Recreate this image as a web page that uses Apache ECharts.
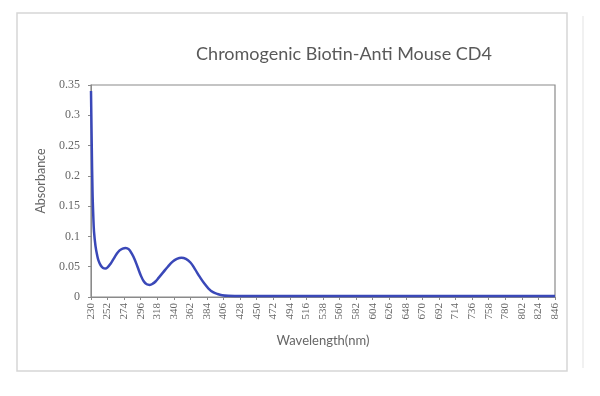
<!DOCTYPE html>
<html>
<head>
<meta charset="utf-8">
<script src="https://cdn.jsdelivr.net/npm/echarts@6/dist/echarts.min.js"></script>
<style>html,body{margin:0;padding:0;background:#fff;}#c{width:600px;height:396px;}</style>
</head>
<body>
<div id="c"></div>
<script>
const titleText = 'Chromogenic Biotin-Anti Mouse CD4';
const xAxisName = 'Wavelength(nm)';
const yAxisName = 'Absorbance';
const xTickLabels = [230,252,274,296,318,340,362,384,406,428,450,472,494,516,538,560,582,604,626,648,670,692,714,736,758,780,802,824,846];
const yTickLabels = [0,0.05,0.1,0.15,0.2,0.25,0.3,0.35];
const wavelengths = [230,231,232,233,234,236,238,240,243,246,249,252,256,260,264,268,272,276,280,284,288,292,296,300,304,308,312,316,320,326,332,338,344,350,356,362,368,374,380,386,392,398,404,412,430,500,600,700,800,846];
const absorbance = [0.340,0.250,0.175,0.135,0.108,0.084,0.070,0.060,0.052,0.048,0.047,0.049,0.055,0.063,0.071,0.077,0.080,0.081,0.079,0.072,0.062,0.049,0.036,0.026,0.021,0.020,0.022,0.026,0.032,0.041,0.050,0.058,0.063,0.065,0.063,0.057,0.046,0.034,0.023,0.014,0.008,0.005,0.003,0.002,0.0015,0.0015,0.0015,0.0015,0.0015,0.0015];

const chart = echarts.init(document.getElementById('c'), null, {renderer:'canvas'});
const seriesData = wavelengths.map((w,i)=>[w, absorbance[i]]);
const fontFam = 'Lato, "Open Sans", sans-serif';
chart.setOption({
  animation: false,
  backgroundColor: '#ffffff',
  title: {
    text: titleText, left: 339, top: 40, textAlign: 'center',
    textStyle: {fontSize: 18, fontWeight: 'normal', color: '#595959', fontFamily: fontFam}
  },
  graphic: [
    {type:'rect', shape:{x:17,y:13,width:550,height:358}, style:{fill:'none', stroke:'#d6d6d6', lineWidth:1.5}, silent:true, z:-1},
    {type:'line', shape:{x1:583,y1:16,x2:583,y2:368}, style:{stroke:'#ececec', lineWidth:1.5}, silent:true, z:-1}
  ],
  grid: {left: 91, top: 85, right: 45, bottom: 99, show: true, borderColor: '#8a8a8a', borderWidth: 1.2, backgroundColor:'transparent'},
  xAxis: {
    type: 'value', min: 230, max: 846,
    name: xAxisName, nameLocation: 'middle', nameGap: 37,
    nameTextStyle: {fontSize: 13, color: '#666', fontFamily: fontFam},
    axisLine: {show: true, lineStyle: {color: '#8a8a8a'}},
    axisTick: {show: true, length: 3, lineStyle:{color:'#8a8a8a'}, customValues: xTickLabels},
    splitLine: {show: false},
    axisLabel: {customValues: xTickLabels, rotate: 90, fontSize: 11, color: '#666', margin: 6, fontFamily: '"Liberation Serif", serif'}
  },
  yAxis: {
    type: 'value', min: 0, max: 0.35, interval: 0.05,
    name: yAxisName, nameLocation: 'middle', nameGap: 44, nameRotate: 90,
    nameTextStyle: {fontSize: 12.5, color: '#666', fontFamily: fontFam, padding: [0, 0, 0, 20]},
    axisLine: {show: true, lineStyle: {color: '#8a8a8a'}},
    axisTick: {show: true, length: 3, lineStyle:{color:'#8a8a8a'}},
    splitLine: {show: false},
    axisLabel: {fontSize: 12, color: '#666', margin: 11, fontFamily: '"Liberation Serif", serif',
      formatter: v => { const t = yTickLabels.find(x => Math.abs(x - v) < 1e-9); return t === undefined ? '' : String(t); }}
  },
  series: [{
    type: 'line', data: seriesData, smooth: 0.4, showSymbol: false,
    lineStyle: {color: '#3a48b8', width: 2.5}
  }]
});
</script>
</body>
</html>
